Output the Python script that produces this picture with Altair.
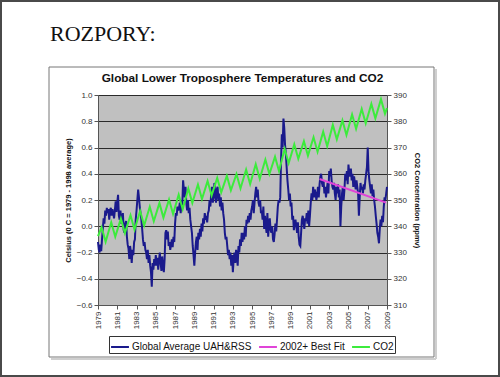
import altair as alt
import pandas as pd

# ---------------- data ----------------
series_names = ["Global Average UAH&RSS", "2002+ Best Fit", "CO2"]
series_colors = ["#1A1A8C", "#E044D8", "#3CEB3C"]
chart_title = "Global Lower Troposphere Temperatures and CO2"
slide_title = "ROZPORY:"

# monthly temperature anomaly (deg C), Jan 1979 .. Dec 1988
temp_1979_1988 = [
    -0.12, -0.18, -0.20, -0.14, -0.19, -0.10, -0.02, 0.06, 0.02, 0.12, 0.08, 0.14,
    0.10, 0.13, 0.05, 0.12, 0.14, 0.08, 0.13, 0.10, 0.06, 0.12, 0.19, 0.11,
    0.18, 0.24, 0.08, 0.05, 0.12, 0.02, 0.06, 0.10, -0.03, -0.05, 0.02, 0.04,
    -0.08, -0.14, -0.17, -0.25, -0.15, -0.20, -0.28, -0.18, -0.22, -0.12, -0.10, 0.05,
    0.12, 0.20, 0.28, 0.22, 0.15, 0.10, 0.05, -0.02, -0.10, -0.15, -0.12, -0.18,
    -0.20, -0.25, -0.18, -0.28, -0.22, -0.30, -0.35, -0.46, -0.28, -0.33, -0.25, -0.30,
    -0.22, -0.30, -0.24, -0.33, -0.26, -0.20, -0.28, -0.34, -0.23, -0.30, -0.35, -0.25,
    -0.05, -0.03, -0.10, -0.04, -0.15, -0.12, -0.18, -0.14, -0.10, -0.16, -0.08, -0.12,
    0.02, 0.10, 0.08, 0.15, 0.12, 0.14, 0.18, 0.10, 0.20, 0.16, 0.35, 0.28,
    0.22, 0.30, 0.18, 0.12, 0.20, 0.10, 0.14, 0.05, 0.00, -0.05, -0.15, -0.22,
]
# Jan 1989 .. Dec 1998
temp_1989_1998 = [
    -0.30, -0.20, -0.12, -0.08, -0.18, -0.05, -0.10, -0.02, -0.08, 0.02, -0.04, 0.06,
    0.02, 0.10, 0.05, 0.08, 0.03, 0.10, 0.12, 0.20, 0.15, 0.25, 0.30, 0.18,
    0.22, 0.33, 0.25, 0.18, 0.28, 0.30, 0.20, 0.25, 0.15, 0.22, 0.12, 0.18,
    0.10, 0.05, -0.05, -0.10, -0.08, -0.15, -0.22, -0.18, -0.25, -0.20, -0.30, -0.22,
    -0.35, -0.25, -0.20, -0.28, -0.18, -0.22, -0.30, -0.15, -0.20, -0.10, -0.15, -0.05,
    -0.12, -0.05, -0.10, 0.00, -0.08, 0.05, 0.02, 0.08, 0.03, 0.10, 0.05, 0.12,
    0.15, 0.20, 0.10, 0.18, 0.25, 0.30, 0.22, 0.28, 0.18, 0.15, 0.20, 0.10,
    0.12, 0.05, 0.15, -0.02, 0.08, 0.00, -0.05, 0.10, -0.08, 0.02, 0.06, -0.03,
    -0.05, 0.00, -0.10, -0.12, -0.06, 0.02, -0.04, 0.05, 0.15, 0.20, 0.18, 0.22,
    0.50, 0.70, 0.60, 0.82, 0.75, 0.62, 0.55, 0.45, 0.35, 0.28, 0.20, 0.25,
]
# Jan 1999 .. Jan 2009
temp_1999_2009 = [
    0.15, 0.18, 0.05, 0.08, -0.03, 0.02, 0.05, 0.00, -0.05, 0.03, -0.08, -0.14,
    -0.15, -0.05, 0.05, 0.08, 0.03, -0.02, 0.06, 0.04, 0.10, 0.02, 0.12, 0.00,
    0.08, 0.18, 0.25, 0.20, 0.30, 0.22, 0.28, 0.25, 0.20, 0.24, 0.30, 0.22,
    0.32, 0.38, 0.40, 0.33, 0.30, 0.35, 0.25, 0.30, 0.22, 0.28, 0.33, 0.25,
    0.42, 0.38, 0.44, 0.35, 0.30, 0.28, 0.33, 0.25, 0.20, 0.30, 0.25, 0.32,
    0.22, 0.28, 0.00, 0.15, 0.25, 0.30, 0.20, 0.28, 0.40, 0.35, 0.42, 0.32,
    0.47, 0.40, 0.38, 0.44, 0.35, 0.40, 0.30, 0.38, 0.33, 0.28, 0.35, 0.30,
    0.25, 0.08, 0.22, 0.33, 0.28, 0.30, 0.25, 0.32, 0.28, 0.35, 0.40, 0.45,
    0.60, 0.42, 0.35, 0.30, 0.25, 0.32, 0.23, 0.28, 0.20, 0.15, 0.08, 0.02,
    -0.05, -0.08, -0.13, -0.02, 0.05, 0.00, 0.08, 0.03, 0.15, 0.22, 0.20, 0.25,
    0.30,
]

# 2002+ best fit line end points
fit_years = [2002.0, 2008.9]
fit_values = [0.36, 0.18]

# CO2 (ppmv): yearly May maxima and October minima, 1979..2008
co2_years = list(range(1979, 2009))
co2_may = [339.6, 341.5, 342.9, 344.2, 345.8, 347.4, 348.8, 350.2, 352.0, 354.4,
           355.9, 357.2, 358.4, 359.2, 359.9, 361.6, 363.6, 365.4, 366.5, 369.5,
           371.2, 372.4, 373.9, 376.0, 378.6, 380.3, 382.6, 384.7, 386.6, 388.4]
co2_oct = [334.1, 336.0, 337.4, 338.7, 340.3, 341.9, 343.3, 344.7, 346.5, 348.9,
           350.4, 351.7, 352.9, 353.7, 354.4, 356.1, 358.1, 359.9, 361.0, 364.0,
           365.7, 366.9, 368.4, 370.5, 373.1, 374.8, 377.1, 379.2, 381.1, 382.9]
co2_first = 336.2   # Jan 1979
co2_last = 385.0    # Jan 2009

tick_years = list(range(1979, 2010, 2))
left_ticks = [-0.6, -0.4, -0.2, 0.0, 0.2, 0.4, 0.6, 0.8, 1.0]
right_ticks = list(range(310, 391, 10))

# ---------------- tables ----------------
temp = temp_1979_1988 + temp_1989_1998 + temp_1999_2009
temp_df = pd.DataFrame({
    "year": [1979 + i / 12 for i in range(len(temp))],
    "value": temp,
    "series": series_names[0],
})
fit_df = pd.DataFrame({"year": fit_years, "value": fit_values, "series": series_names[1]})

co2_x, co2_v = [1979.0], [co2_first]
for y, hi, lo in zip(co2_years, co2_may, co2_oct):
    co2_x += [y + 4.5 / 12, y + 9.5 / 12]
    co2_v += [hi, lo]
co2_x.append(2009.0)
co2_v.append(co2_last)
co2_df = pd.DataFrame({"year": co2_x, "co2": co2_v, "series": series_names[2]})

one = pd.DataFrame({"a": [0]})

FONT = "Liberation Sans"

# ---------------- encodings ----------------
x_enc = alt.X(
    "year:Q",
    scale=alt.Scale(domain=[1979, 2009], nice=False, zero=False),
    axis=alt.Axis(values=tick_years, format="d", labelAngle=-90, title=None,
                  grid=False, labelFontSize=8, labelColor="#333", labelFont=FONT,
                  tickColor="#555", domainColor="#555", tickSize=4, labelPadding=2),
)
color_enc = alt.Color(
    "series:N",
    scale=alt.Scale(domain=series_names, range=series_colors),
    legend=alt.Legend(orient="none", legendX=11, legendY=241, direction="horizontal",
                      title=None, strokeColor="#333", fillColor="white", padding=1,
                      symbolType="stroke", symbolSize=320, symbolStrokeWidth=2,
                      labelFontSize=10, labelFont=FONT, labelColor="#111",
                      columnPadding=3, labelOffset=2),
)
y_left = alt.Y(
    "value:Q",
    scale=alt.Scale(domain=[-0.6, 1.0], nice=False, zero=False),
    axis=alt.Axis(values=left_ticks, format=".1f", title="Celsius (0 C = 1979 - 1998 average)",
                  titleFontSize=7.5, titleFont=FONT, titleFontWeight="bold", titleColor="#111",
                  titlePadding=4, labelFontSize=8, labelColor="#333", labelFont=FONT,
                  grid=True, gridColor="#2a2a2a", gridWidth=1, tickColor="#555",
                  domainColor="#555", tickSize=4),
)
y_right = alt.Y(
    "co2:Q",
    scale=alt.Scale(domain=[310, 390], nice=False, zero=False),
    axis=alt.Axis(orient="right", values=right_ticks, title="CO2 Concentration (ppmv)",
                  titleFontSize=7.5, titleFont=FONT, titleFontWeight="bold", titleColor="#111",
                  titlePadding=6, labelFontSize=8, labelColor="#333", labelFont=FONT,
                  grid=False, tickColor="#555", domainColor="#555", tickSize=4),
)

temp_line = alt.Chart(temp_df).mark_line(strokeWidth=2).encode(x=x_enc, y=y_left, color=color_enc)
fit_line = alt.Chart(fit_df).mark_line(strokeWidth=2).encode(x=x_enc, y=y_left, color=color_enc)
co2_line = alt.Chart(co2_df).mark_line(strokeWidth=2).encode(x=x_enc, y=y_right, color=color_enc)
left_group = alt.layer(temp_line, fit_line)

# ---------------- decorations ----------------
page_border = alt.Chart(one).mark_rect(fillOpacity=0, stroke="#4a4a4a", strokeWidth=2).encode(
    x=alt.value(-97), x2=alt.value(401), y=alt.value(-94), y2=alt.value(281))
box = alt.Chart(one).mark_rect(fillOpacity=0, stroke="#777", strokeWidth=1).encode(
    x=alt.value(-49), x2=alt.value(336), y=alt.value(-28), y2=alt.value(262))
shadow_r = alt.Chart(one).mark_rule(stroke="#cfcfcf", strokeWidth=2).encode(
    x=alt.value(338), y=alt.value(-26), y2=alt.value(264))
shadow_b = alt.Chart(one).mark_rule(stroke="#cfcfcf", strokeWidth=2).encode(
    x=alt.value(-47), x2=alt.value(338), y=alt.value(264))
rozpory = alt.Chart(one).mark_text(text=slide_title, font="Liberation Serif", fontSize=22,
                                   align="left", baseline="alphabetic", color="#111").encode(
    x=alt.value(-48), y=alt.value(-54))
title_text = alt.Chart(one).mark_text(text=chart_title, font=FONT, fontSize=11.8,
                                      fontWeight="bold", align="center",
                                      baseline="alphabetic", color="#111").encode(
    x=alt.value(144.5), y=alt.value(-13))

chart = alt.layer(
    page_border, shadow_r, shadow_b, box, rozpory, title_text, left_group, co2_line
).resolve_scale(y="independent").properties(
    width=289, height=210,
    padding={"left": 98, "top": 95, "right": 113, "bottom": 72},
    autosize=alt.AutoSizeParams(type="none"),
    background="white",
).configure_view(fill="#C0C0C0", stroke="#666", strokeWidth=1)

chart.save("out.html", embed_options={"renderer": "svg", "actions": False})
